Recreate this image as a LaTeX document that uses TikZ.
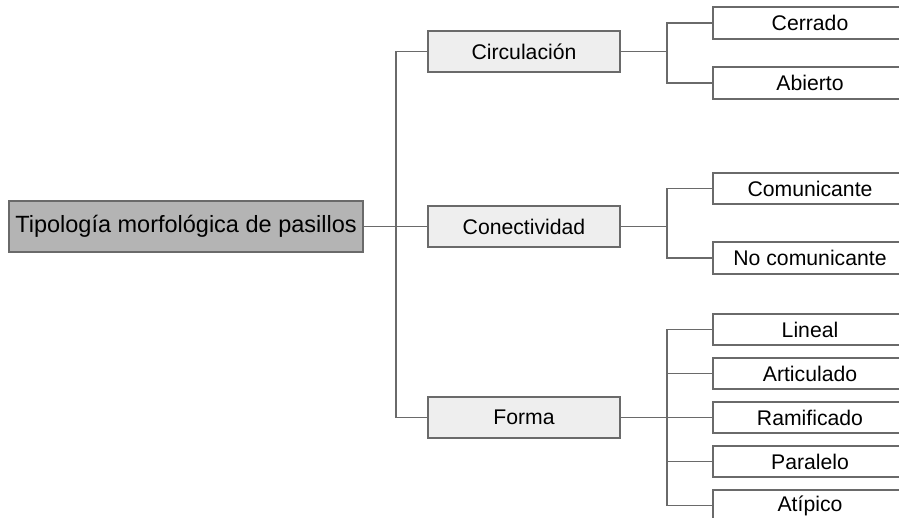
\documentclass[tikz,border=0pt]{standalone}
\usepackage{fontspec}
\setmainfont{Liberation Sans}
\definecolor{edgegray}{HTML}{6A6A6A}
\definecolor{rootfill}{HTML}{B4B4B4}
\definecolor{midfill}{HTML}{EEEEEE}
\begin{document}
\begin{tikzpicture}[x=1pt,y=-1pt,
  box/.style={draw=edgegray,line width=1.8pt,inner sep=0pt,text=black,align=center},
  rootbox/.style={box,fill=rootfill,minimum width=354pt,minimum height=51pt,font=\fontsize{23.5}{27}\selectfont},
  midbox/.style={box,fill=midfill,minimum width=192pt,minimum height=41pt,font=\fontsize{21.2}{24}\selectfont},
  leafbox/.style={box,fill=white,minimum width=194pt,minimum height=31.5pt,font=\fontsize{21.2}{24}\selectfont},
  conn/.style={draw=edgegray,line width=1.8pt}]
\clip (0,0) rectangle (899,517);
\fill[white] (0,0) rectangle (899,517);
\node[rootbox] (root) at (186,226.5) {Tipología morfológica de pasillos};
\node[midbox] (circ) at (524,51.5) {Circulación};
\node[midbox] (conec) at (524,226.5) {Conectividad};
\node[midbox] (forma) at (524,417.5) {Forma};
\node[leafbox] (cerr) at (810,23) {Cerrado};
\node[leafbox] (abie) at (810,83) {Abierto};
\node[leafbox] (comu) at (810,188.5) {Comunicante};
\node[leafbox] (nocomu) at (810,258) {No comunicante};
\node[leafbox] (line) at (810,329.5) {Lineal};
\node[leafbox] (arti) at (810,373.5) {Articulado};
\node[leafbox] (rami) at (810,417.5) {Ramificado};
\node[leafbox] (para) at (810,461.5) {Paralelo};
\node[leafbox] (atip) at (810,505.5) {Atípico};
\coordinate (t) at (396,0);
\coordinate (b) at (667,0);
\draw[conn] (root.east) -- (conec.west);
\draw[conn] (circ.west) -| (t |- forma.west) -- (forma.west);
\draw[conn] (circ.east) -- (circ.east -| b);
\draw[conn] (cerr.west) -| (b |- abie.west) -- (abie.west);
\draw[conn] (conec.east) -- (conec.east -| b);
\draw[conn] (comu.west) -| (b |- nocomu.west) -- (nocomu.west);
\draw[conn] (forma.east) -- (forma.east -| b);
\draw[conn] (line.west) -| (b |- atip.west) -- (atip.west);
\draw[conn] (arti.west) -- (arti.west -| b);
\draw[conn] (rami.west) -- (rami.west -| b);
\draw[conn] (para.west) -- (para.west -| b);
\end{tikzpicture}
\end{document}
